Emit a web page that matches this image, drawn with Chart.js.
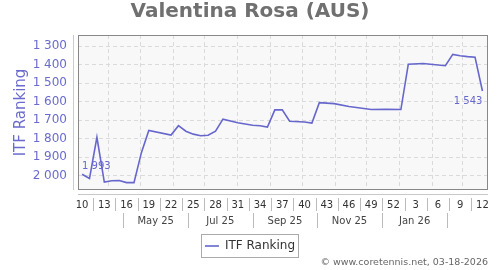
<!DOCTYPE html>
<html>
<head>
<meta charset="utf-8">
<script src="https://cdn.jsdelivr.net/npm/chart.js@4"></script>
<style>
html, body { margin: 0; padding: 0; background: #fff; }
#wrap { width: 500px; height: 270px; }
</style>
</head>
<body>
<div id="wrap"><canvas id="myChart" width="500" height="270"></canvas></div>
<script>
// ISO weeks, 10/2025 .. 12/2026
var weekLabels = [10, 11, 12, 13, 14, 15, 16, 17, 18, 19, 20, 21, 22, 23, 24, 25, 26, 27, 28, 29,
    30, 31, 32, 33, 34, 35, 36, 37, 38, 39, 40, 41, 42, 43, 44, 45, 46, 47, 48, 49, 50, 51, 52,
    1, 2, 3, 4, 5, 6, 7, 8, 9, 10, 11, 12];

// ITF ranking per week (null = no change point in the picture)
var rankings = [1993, 2016, 1793, 2035, 2028, 2027, 2038, 2038, 1876, 1756,
    null, null, 1781, 1730, 1760, 1776, 1785, 1782, 1760, 1695,
    null, 1714, null, 1728, 1731, 1738, 1645, 1644, 1706, null,
    1710, 1716, 1606, null, 1611, null, 1627, null, null, 1643,
    null, 1642, null, 1643, 1398, null, 1394, null, null, 1406,
    1345, 1352, 1357, 1360, 1543];

var yTicks = [1300, 1400, 1500, 1600, 1700, 1800, 1900, 2000];

var periodLabels = ['May 25', 'Jul 25', 'Sep 25', 'Nov 25', 'Jan 26'];
var periodBounds = ['2025-04-15', '2025-06-15', '2025-08-15', '2025-10-15', '2025-12-15', '2026-02-15'];
var monthStarts = ['2025-04-01', '2025-05-01', '2025-06-01', '2025-07-01', '2025-08-01', '2025-09-01',
    '2025-10-01', '2025-11-01', '2025-12-01', '2026-01-01', '2026-02-01', '2026-03-01'];
var firstWeekDate = '2025-03-07';

var lineColor = '#6666cc';
var axisBlue = '#6b6bcf';

function dateToIndex(s) {
    return (Date.parse(s) - Date.parse(firstWeekDate)) / (7 * 86400000);
}

function fmt(v) {
    return String(v).replace(/\B(?=(\d{3})+(?!\d))/g, ' ');
}

var weekTicks = [];
for (var i = 0; i < weekLabels.length; i += 3) weekTicks.push(i);

var points = rankings.map(function(v, i) { return {x: i, y: v}; });

var decor = {
    id: 'decor',
    beforeDraw: function(chart) {
        var ctx = chart.ctx, a = chart.chartArea;
        ctx.save();
        ctx.fillStyle = '#fff';
        ctx.fillRect(0, 0, chart.width, chart.height);
        ctx.fillStyle = '#f8f8f8';
        ctx.fillRect(a.left, a.top, a.right - a.left, a.bottom - a.top);
        ctx.restore();
    },
    afterDraw: function(chart) {
        var ctx = chart.ctx, a = chart.chartArea;
        var xs = chart.scales.x;
        ctx.save();

        // plot frame
        ctx.strokeStyle = '#888';
        ctx.lineWidth = 1;
        ctx.strokeRect(a.left + 0.5, a.top + 0.5, a.right - a.left - 1, a.bottom - a.top - 1);

        // offset axis lines
        ctx.strokeStyle = '#c8c8e0';
        ctx.beginPath();
        ctx.moveTo(a.left - 4.5, a.top);
        ctx.lineTo(a.left - 4.5, a.bottom);
        ctx.stroke();
        ctx.strokeStyle = '#c8c8c8';
        ctx.beginPath();
        ctx.moveTo(a.left, a.bottom + 4.5);
        ctx.lineTo(a.right, a.bottom + 4.5);
        ctx.stroke();

        // separators between week labels
        ctx.strokeStyle = '#bbb';
        ctx.beginPath();
        for (var k = 1; k < weekTicks.length; k++) {
            var px = Math.round(xs.getPixelForValue((weekTicks[k - 1] + weekTicks[k]) / 2)) + 0.5;
            ctx.moveTo(px, a.bottom + 8);
            ctx.lineTo(px, a.bottom + 21);
        }
        // separators between period labels
        periodBounds.forEach(function(d) {
            var px = Math.round(xs.getPixelForValue(dateToIndex(d))) + 0.5;
            ctx.moveTo(px, a.bottom + 23);
            ctx.lineTo(px, a.bottom + 38);
        });
        ctx.stroke();

        ctx.fillStyle = '#444';
        ctx.font = '10px "DejaVu Sans"';
        ctx.textAlign = 'center';
        ctx.textBaseline = 'middle';
        periodLabels.forEach(function(t, j) {
            var mid = (dateToIndex(periodBounds[j]) + dateToIndex(periodBounds[j + 1])) / 2;
            ctx.fillText(t, xs.getPixelForValue(mid), a.bottom + 31);
        });

        // first / last value labels
        var meta = chart.getDatasetMeta(0);
        var first = 0, last = rankings.length - 1;
        ctx.fillStyle = lineColor;
        ctx.font = '10px "DejaVu Sans"';
        ctx.textAlign = 'left';
        ctx.fillText(fmt(rankings[first]), meta.data[first].x, meta.data[first].y - 8);
        ctx.textAlign = 'right';
        ctx.fillText(fmt(rankings[last]), meta.data[last].x, meta.data[last].y + 10);

        // legend frame
        var hb = chart.legend.legendHitBoxes[0];
        if (hb) {
            ctx.strokeStyle = '#aaa';
            ctx.strokeRect(Math.round(hb.left) - 3.5, Math.round(hb.top) - 5.5, Math.round(hb.width) + 7, hb.height + 11);
        }

        // footer
        ctx.fillStyle = '#666';
        ctx.font = '9.5px "DejaVu Sans"';
        ctx.textAlign = 'right';
        ctx.fillText('\u00a9 www.coretennis.net, 03-18-2026', 488, 263);
        ctx.restore();
    }
};

Chart.defaults.font.family = '"DejaVu Sans"';

var ctx = document.getElementById('myChart').getContext('2d');

var myChart = new Chart(ctx, {
    type: 'line',
    data: {
        datasets: [{
            label: 'ITF Ranking',
            data: points,
            borderColor: lineColor,
            backgroundColor: lineColor,
            borderWidth: 1.6,
            pointRadius: 0,
            fill: false,
            tension: 0,
            spanGaps: true
        }]
    },
    options: {
        responsive: false,
        animation: false,
        layout: { padding: { left: 0, right: 0, top: 0, bottom: 8 } },
        plugins: {
            title: {
                display: true,
                text: 'Valentina Rosa (AUS)',
                color: '#707070',
                font: { size: 20, weight: 'bold' },
                padding: { top: 0, bottom: 11 }
            },
            legend: {
                position: 'bottom',
                labels: {
                    color: '#333',
                    font: { size: 12 },
                    usePointStyle: true,
                    pointStyle: 'line',
                    pointStyleWidth: 14,
                    padding: 10
                }
            },
            tooltip: { enabled: false }
        },
        scales: {
            x: {
                type: 'linear',
                position: 'bottom',
                min: -0.55,
                max: 54.75,
                grid: { display: false },
                border: { display: false },
                afterBuildTicks: function(scale) {
                    scale.ticks = weekTicks.map(function(v) { return {value: v}; });
                },
                ticks: {
                    autoSkip: false,
                    maxRotation: 0,
                    padding: 1,
                    color: '#333',
                    font: { size: 10 },
                    callback: function(v) { return String(weekLabels[v]); }
                },
                afterFit: function(scale) { scale.height = 40; }
            },
            xm: {
                type: 'linear',
                position: 'bottom',
                min: -0.55,
                max: 54.75,
                afterBuildTicks: function(scale) {
                    scale.ticks = monthStarts.map(function(d) { return {value: dateToIndex(d)}; });
                },
                ticks: { display: false },
                grid: { color: '#dadada', drawTicks: false },
                border: { display: false, dash: [4, 3] },
                afterFit: function(scale) { scale.height = 0; }
            },
            y: {
                reverse: true,
                min: 1240,
                max: 2078,
                afterBuildTicks: function(scale) {
                    scale.ticks = yTicks.map(function(v) { return {value: v}; });
                },
                grid: { color: '#dadada', drawTicks: false },
                border: { display: false, dash: [4, 3] },
                ticks: {
                    padding: 11,
                    color: axisBlue,
                    font: { size: 12 },
                    callback: function(v) { return fmt(v); }
                },
                title: {
                    display: true,
                    text: 'ITF Ranking',
                    color: axisBlue,
                    font: { size: 15 },
                    padding: { top: 12, bottom: 0 }
                },
                afterFit: function(scale) { scale.width = 78; }
            },
            yr: {
                position: 'right',
                grid: { display: false },
                border: { display: false },
                ticks: { display: false },
                afterFit: function(scale) { scale.width = 12; }
            }
        }
    },
    plugins: [decor]
});
</script>
</body>
</html>
